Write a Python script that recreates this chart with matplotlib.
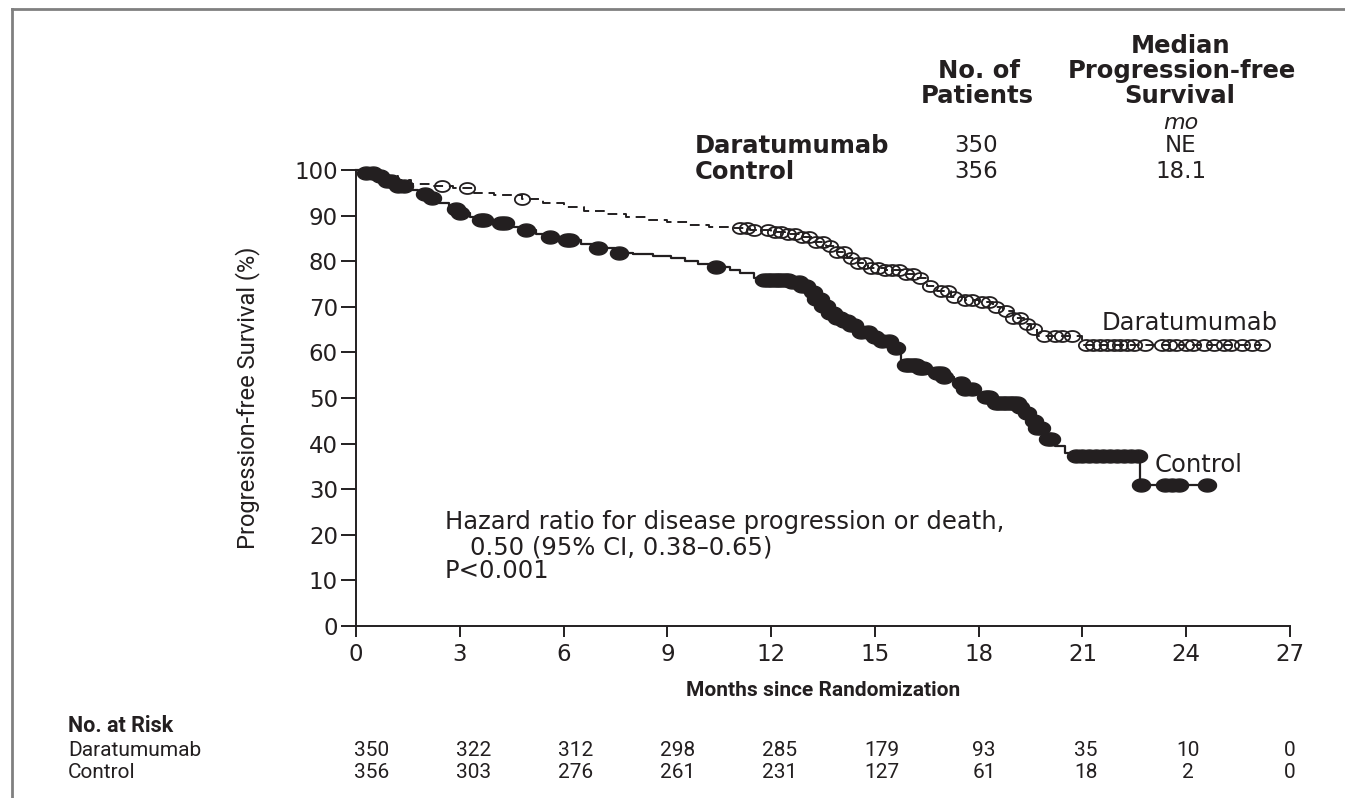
import numpy as np
import matplotlib.pyplot as plt
from matplotlib.lines import Line2D

# Kaplan-Meier curves (month, % progression-free)
dara_t = [0, 0.4, 0.8, 1.2, 1.6, 2.2, 2.8, 3.4, 4.0, 4.8, 5.4, 6.0, 6.6, 7.2, 7.8, 8.4,
          9.0, 9.6, 10.2, 10.8, 11.4, 12.0, 12.4, 12.8, 13.2, 13.6, 13.9, 14.2, 14.5,
          14.8, 15.3, 15.8, 16.2, 16.5, 16.8, 17.2, 17.6, 18.0, 18.4, 18.7, 19.0, 19.3,
          19.5, 19.7, 21.0, 26.2]
dara_s = [100, 99.5, 98.6, 97.8, 97.0, 96.5, 96.0, 95.0, 94.5, 93.7, 92.8, 91.9, 91.0,
          90.3, 89.7, 89.1, 88.6, 88.0, 87.6, 87.2, 86.9, 86.5, 86.0, 85.3, 84.3, 83.3,
          82.0, 80.8, 79.6, 78.6, 78.1, 77.3, 76.3, 74.6, 73.4, 72.1, 71.5, 71.0, 70.0,
          69.0, 67.6, 66.2, 65.2, 63.6, 61.6, 61.6]
dara_cens = [2.5, 3.2, 4.8, 11.1, 11.3, 11.5, 11.9, 12.1, 12.3, 12.5, 12.7, 12.9, 13.1,
             13.3, 13.5, 13.7, 13.9, 14.1, 14.3, 14.5, 14.7, 14.9, 15.1, 15.3, 15.5, 15.7,
             15.9, 16.1, 16.3, 16.6, 16.9, 17.1, 17.3, 17.6, 17.8, 18.1, 18.3, 18.5, 18.8,
             19.0, 19.2, 19.4, 19.6, 19.9, 20.2, 20.4, 20.7, 21.1, 21.3, 21.5, 21.7, 21.9,
             22.1, 22.3, 22.5, 22.8, 23.3, 23.5, 23.7, 24.0, 24.2, 24.5, 24.8, 25.1, 25.3,
             25.6, 25.9, 26.2]

ctrl_t = [0, 0.3, 0.6, 0.9, 1.2, 1.5, 1.8, 2.1, 2.4, 2.7, 3.0, 3.3, 3.6, 4.0, 4.4, 4.8,
          5.2, 5.6, 6.0, 6.5, 7.0, 7.5, 8.0, 8.6, 9.1, 9.5, 9.9, 10.4, 10.8, 11.1, 11.5,
          11.8, 12.6, 12.9, 13.1, 13.3, 13.5, 13.7, 13.9, 14.1, 14.3, 14.6, 14.9, 15.2,
          15.5, 15.75, 15.9, 16.3, 16.7, 17.0, 17.3, 17.6, 17.9, 18.2, 18.5, 19.2, 19.4,
          19.55, 19.7, 19.85, 20.2, 20.5, 20.7, 22.65, 24.6]
ctrl_s = [100, 99.4, 98.6, 97.6, 96.6, 95.7, 94.8, 93.9, 92.8, 91.5, 90.5, 89.7, 89.0,
          88.3, 87.6, 86.8, 86.0, 85.3, 84.6, 83.8, 82.9, 81.9, 81.5, 81.2, 80.8, 80.0,
          79.4, 78.7, 78.0, 77.4, 76.4, 75.9, 75.4, 74.5, 73.2, 71.8, 70.2, 68.6, 67.6,
          66.8, 66.0, 64.5, 63.4, 62.4, 61.0, 58.2, 57.3, 56.5, 55.5, 54.5, 53.3, 52.0,
          50.8, 50.2, 49.0, 48.0, 46.7, 45.0, 43.5, 41.0, 39.5, 38.0, 37.2, 31.0, 31.0]
ctrl_cens = [0.3, 0.5, 0.7, 0.9, 1.0, 1.2, 1.4, 2.0, 2.2, 2.9, 3.0, 3.6, 3.7, 4.2, 4.3,
             4.9, 5.6, 6.1, 6.2, 7.0, 7.6, 10.4, 11.8, 11.9, 12.0, 12.1, 12.2, 12.3, 12.4,
             12.5, 12.6, 12.8, 12.9, 13.0, 13.2, 13.3, 13.4, 13.5, 13.6, 13.7, 13.8, 13.9,
             14.0, 14.1, 14.2, 14.3, 14.4, 14.6, 14.8, 15.0, 15.2, 15.4, 15.6, 15.9, 16.0,
             16.1, 16.2, 16.3, 16.4, 16.8, 16.9, 17.0, 17.5, 17.6, 17.8, 18.2, 18.3, 18.5,
             18.6, 18.7, 18.8, 18.9, 19.0, 19.1, 19.2, 19.4, 19.6, 19.7, 19.8, 20.0, 20.1,
             20.8, 21.0, 21.2, 21.4, 21.6, 21.8, 22.0, 22.2, 22.4, 22.6, 22.7, 23.4, 23.6,
             23.8, 24.6]

x_ticks = [0, 3, 6, 9, 12, 15, 18, 21, 24, 27]
y_ticks = [0, 10, 20, 30, 40, 50, 60, 70, 80, 90, 100]
risk_dara = [350, 322, 312, 298, 285, 179, 93, 35, 10, 0]
risk_ctrl = [356, 303, 276, 261, 231, 127, 61, 18, 2, 0]

ink = '#231f20'
narrow = ['Roboto', 'DejaVu Sans']
W, H = 1345, 798


def fxy(x, y):
    # pixel position in the picture -> figure fraction
    return x / W, 1 - y / H


def at_time(t, s, c):
    idx = np.searchsorted(t, c, side='right') - 1
    return np.array(s)[idx]


fig = plt.figure(figsize=(W / 100, H / 100), dpi=100)
ax = fig.add_axes([356 / W, 1 - 626 / H, (1290 - 356) / W, (626 - 170) / H])

# squashed circles, the original is stretched sideways
th = np.linspace(0, 2 * np.pi, 41)
oval = list(zip(np.cos(th), 0.72 * np.sin(th)))

ax.step(ctrl_t, ctrl_s, where='post', color=ink, lw=1.6, clip_on=False)
ax.step(dara_t, dara_s, where='post', color=ink, lw=1.4, ls=(0, (5, 3)), clip_on=False)
ax.plot(ctrl_cens, at_time(ctrl_t, ctrl_s, ctrl_cens), ls='none', marker=oval,
        ms=13, mfc=ink, mec=ink, clip_on=False)
ax.plot(dara_cens, at_time(dara_t, dara_s, dara_cens), ls='none', marker=oval,
        ms=11, mfc='none', mec=ink, mew=1.3, clip_on=False)

ax.set_xlim(0, 27)
ax.set_ylim(0, 100)
ax.set_xticks(x_ticks)
ax.set_yticks(y_ticks)
for sp in ['top', 'right']:
    ax.spines[sp].set_visible(False)
for sp in ['left', 'bottom']:
    ax.spines[sp].set_linewidth(1.4)
    ax.spines[sp].set_color(ink)
ax.tick_params(axis='x', direction='out', length=8, width=1.4, pad=4, colors=ink, labelsize=16.5)
ax.tick_params(axis='y', direction='out', length=11, width=1.4, pad=2, colors=ink, labelsize=16.5)

ax.set_ylabel('Progression-free Survival (%)', family=narrow, fontsize=17, color=ink,
              labelpad=25)
ax.set_xlabel('Months since Randomization', family=narrow, fontweight='bold', fontsize=15,
              color=ink, labelpad=11)

fig.text(*fxy(1102, 323), 'Daratumumab', fontsize=17.5, color=ink, va='center')
fig.text(*fxy(1155, 465), 'Control', fontsize=17.5, color=ink, va='center')
fig.text(*fxy(445, 522), 'Hazard ratio for disease progression or death,', fontsize=17.5,
         color=ink, va='center')
fig.text(*fxy(470, 547), '0.50 (95% CI, 0.38\u20130.65)', fontsize=17.5, color=ink, va='center')
fig.text(*fxy(445, 571), 'P<0.001', fontsize=17.5, color=ink, va='center')

# header table
hdr = dict(fontsize=17.5, fontweight='bold', color=ink, ha='center', va='center')
fig.text(*fxy(1181, 46), 'Median', **hdr)
fig.text(*fxy(979, 71), 'No. of', **hdr)
fig.text(*fxy(1182, 71), 'Progression-free', **hdr)
fig.text(*fxy(977, 96), 'Patients', **hdr)
fig.text(*fxy(1180, 96), 'Survival', **hdr)
fig.text(*fxy(1181, 123), 'mo', fontsize=16, style='italic', color=ink, ha='center', va='center')
fig.text(*fxy(695, 146), 'Daratumumab', fontsize=17.5, fontweight='bold', color=ink, va='center')
fig.text(*fxy(695, 172), 'Control', fontsize=17.5, fontweight='bold', color=ink, va='center')
for y, n, med in [(146, '350', 'NE'), (172, '356', '18.1')]:
    fig.text(*fxy(976, y), n, fontsize=16.5, color=ink, ha='center', va='center')
    fig.text(*fxy(1181, y), med, fontsize=16.5, color=ink, ha='center', va='center')

# number at risk
fig.text(*fxy(68, 726), 'No. at Risk', family=narrow, fontweight='bold', fontsize=15.5,
         color=ink, va='center')
for y, name, row in [(750, 'Daratumumab', risk_dara), (772, 'Control', risk_ctrl)]:
    fig.text(*fxy(68, y), name, family=narrow, fontsize=15, color=ink, va='center')
    for i, n in enumerate(row):
        fig.text(*fxy(372 + 102 * i, y), str(n), family=narrow, fontsize=15, color=ink,
                 ha='center', va='center')

# frame left over from the page crop
fig.add_artist(Line2D([12 / W, 1], [1 - 9 / H, 1 - 9 / H], transform=fig.transFigure,
                      color='#808080', lw=2))
fig.add_artist(Line2D([12 / W, 12 / W], [0, 1 - 9 / H], transform=fig.transFigure,
                      color='#808080', lw=2))

fig.savefig('out.png', dpi=100)
